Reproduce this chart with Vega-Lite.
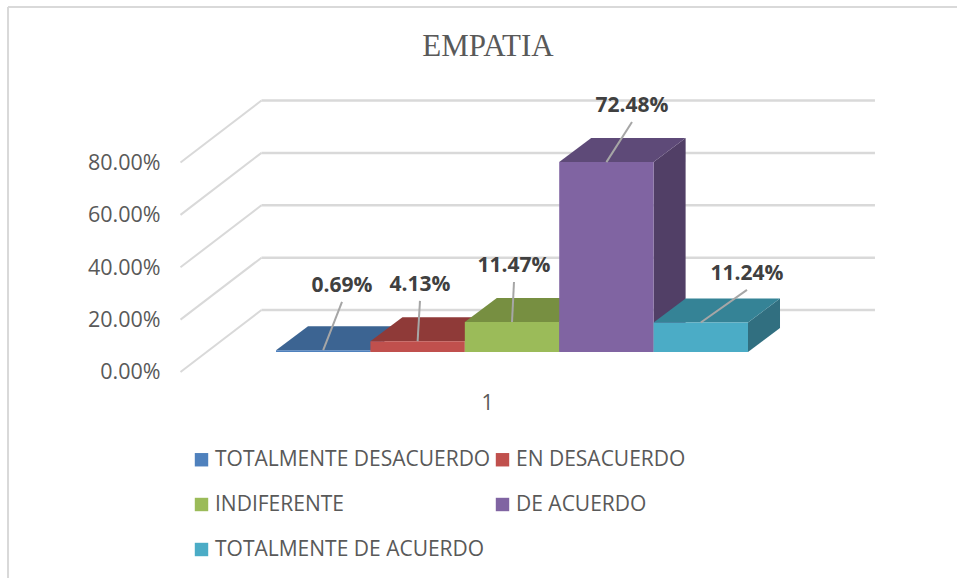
{
"$schema":"https://vega.github.io/schema/vega-lite/v6.json",
"width":957,"height":578,"padding":0,"autosize":{"type":"none"},
"background":"white",
"view":{"stroke":null},
"title":{"text":"EMPATIA","font":"Liberation Serif","fontSize":31,"fontWeight":"normal","color":"#595959","anchor":"middle","offset":-87,"dx":9.5,"baseline":"alphabetic"},
"datasets":{
"bars":[
{"category":"TOTALMENTE DESACUERDO","slot":0,"value":0.0069,"label_slot":0.699,"label_level":0.191},
{"category":"EN DESACUERDO","slot":1,"value":0.0413,"label_slot":1.525,"label_level":0.195},
{"category":"INDIFERENTE","slot":2,"value":0.1147,"label_slot":2.521,"label_level":0.267},
{"category":"DE ACUERDO","slot":3,"value":0.7248,"label_slot":3.771,"label_level":0.878},
{"category":"TOTALMENTE DE ACUERDO","slot":4,"value":0.1124,"label_slot":4.989,"label_level":0.237}
],
"grid":[{"level":0},{"level":0.2},{"level":0.4},{"level":0.6},{"level":0.8}]
},
"data":{"name":"bars"},
"resolve":{"scale":{"color":"independent"}},
"layer":[
{"data":{"values":[{"frame":1}]},"mark":{"type":"rule","color":"#D9D9D9","strokeWidth":2},
 "encoding":{"x":{"datum":-2.839,"type":"quantitative","scale":{"domain":[-2.924,7.214],"nice":false,"zero":false},
   "axis":{"values":[2.235],"labelExpr":"'1'","title":null,"grid":false,"domain":false,"ticks":false,"offset":-186,"labelPadding":0,"labelFont":"Open Sans","labelFontSize":21,"labelColor":"#595959","labelBaseline":"top"}},
  "y":{"datum":1.3168,"type":"quantitative","scale":{"domain":[-0.8626,1.3435],"nice":false,"zero":false},
   "axis":{"values":[0,0.2,0.4,0.6,0.8],"format":".2%","title":null,"grid":false,"domain":false,"ticks":false,"orient":"left","offset":-160,"labelPadding":0,"labelOffset":21,"labelFont":"Open Sans","labelFontSize":21.5,"labelColor":"#595959"}},
  "y2":{"datum":-0.8626}}},
{"data":{"values":[{"frame":1}]},"mark":{"type":"rule","color":"#D9D9D9","strokeWidth":2},
 "encoding":{"x":{"datum":-2.839,"type":"quantitative"},"x2":{"datum":7.214},"y":{"datum":1.3168,"type":"quantitative"}}},
{"data":{"name":"grid"},"transform":[{"calculate":"datum.level+0.16","as":"back"},{"calculate":"datum.level-0.0766","as":"front"}],
 "mark":{"type":"rule","color":"#D9D9D9","strokeWidth":2},
 "encoding":{"x":{"datum":-1.012,"type":"quantitative"},"x2":{"datum":-0.154},"y":{"field":"front","type":"quantitative"},"y2":{"field":"back"}}},
{"data":{"name":"grid"},"transform":[{"calculate":"datum.level+0.16","as":"back"}],
 "mark":{"type":"rule","color":"#D9D9D9","strokeWidth":2.5},
 "encoding":{"x":{"datum":-0.154,"type":"quantitative"},"x2":{"datum":6.345},"y":{"field":"back","type":"quantitative"}}},
{"transform":[{"calculate":"[0,1]","as":"p"},{"flatten":["p"]},{"calculate":"datum.slot+1+datum.p*0.339","as":"sx"},{"calculate":"datum.value+datum.p*0.0916","as":"sy"},{"calculate":"datum.p*0.0916","as":"sy2"}],
 "mark":{"type":"area","orient":"vertical"},
 "encoding":{"x":{"field":"sx","type":"quantitative"},"y":{"field":"sy","type":"quantitative","stack":null},"y2":{"field":"sy2"},
  "color":{"field":"category","type":"nominal","legend":null,"scale":{"domain":["TOTALMENTE DESACUERDO","EN DESACUERDO","INDIFERENTE","DE ACUERDO","TOTALMENTE DE ACUERDO"],"range":["#33567F","#7D3230","#66793A","#513F66","#316F80"]}}}},
{"transform":[{"calculate":"[0,1]","as":"p"},{"flatten":["p"]},{"calculate":"datum.slot+datum.p*0.339","as":"tx"},{"calculate":"datum.slot+1+datum.p*0.339","as":"tx2"},{"calculate":"datum.value+datum.p*0.0916","as":"ty"}],
 "mark":{"type":"area","orient":"horizontal"},
 "encoding":{"y":{"field":"ty","type":"quantitative"},"x":{"field":"tx","type":"quantitative","stack":null},"x2":{"field":"tx2"},
  "color":{"field":"category","type":"nominal","legend":null,"scale":{"domain":["TOTALMENTE DESACUERDO","EN DESACUERDO","INDIFERENTE","DE ACUERDO","TOTALMENTE DE ACUERDO"],"range":["#3C6492","#8F3A38","#778F41","#5E4A78","#358396"]}}}},
{"transform":[{"calculate":"datum.slot+1","as":"slot_end"},{"calculate":"0","as":"base"}],
 "mark":{"type":"rect"},
 "encoding":{"x":{"field":"slot","type":"quantitative"},"x2":{"field":"slot_end"},"y":{"field":"value","type":"quantitative"},"y2":{"field":"base"},
  "color":{"field":"category","type":"nominal","scale":{"domain":["TOTALMENTE DESACUERDO","EN DESACUERDO","INDIFERENTE","DE ACUERDO","TOTALMENTE DE ACUERDO"],"range":["#4F81BD","#C0504D","#9BBB59","#8064A2","#4BACC6"]},
   "legend":{"title":null,"orient":"none","legendX":191,"legendY":449,"direction":"horizontal","columns":2,"gridAlign":"all","symbolType":"square","symbolSize":180,"symbolStrokeWidth":0,"labelFont":"Open Sans","labelFontSize":21,"labelColor":"#595959","labelOffset":3,"labelLimit":400,"rowPadding":23,"columnPadding":1}}}},
{"transform":[{"calculate":"datum.slot+0.5","as":"mid"}],
 "mark":{"type":"rule","color":"#A6A6A6","strokeWidth":2},
 "encoding":{"x":{"field":"mid","type":"quantitative"},"x2":{"field":"label_slot"},"y":{"field":"value","type":"quantitative"},"y2":{"field":"label_level"}}},
{"mark":{"type":"text","font":"Open Sans","fontWeight":"bold","fontSize":21,"color":"#404040","yOffset":-16,"align":"center","baseline":"middle"},
 "encoding":{"x":{"field":"label_slot","type":"quantitative"},"y":{"field":"label_level","type":"quantitative"},"text":{"field":"value","type":"quantitative","format":".2%"}}}
]
}
